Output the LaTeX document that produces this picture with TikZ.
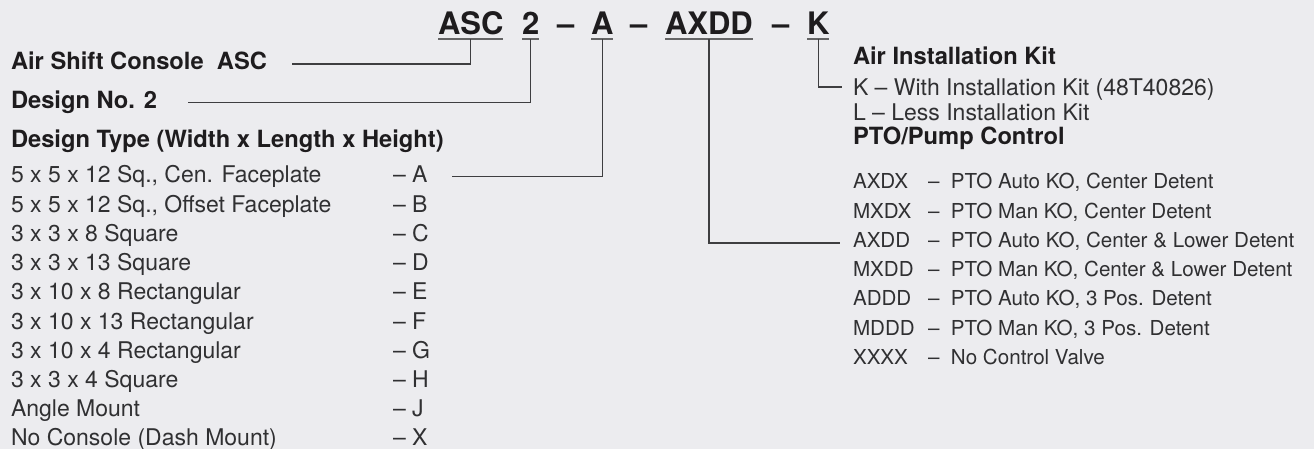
\documentclass[tikz,border=0pt]{standalone}
\usepackage{fontspec}
\setmainfont{TeX Gyre Heros}
\usepackage{xcolor}
\usepackage{tikz}
\usetikzlibrary{calc}

\definecolor{bgcol}{RGB}{236,236,239}
\definecolor{txtcol}{RGB}{48,48,50}
\definecolor{boldcol}{RGB}{30,28,30}
\definecolor{linecol}{RGB}{62,62,64}

\begin{document}
\begin{tikzpicture}[x=1pt, y=-1pt,
    every node/.style={inner sep=0pt, outer sep=0pt, anchor=base west},
    code/.style={font=\fontsize{31}{31}\selectfont\bfseries, text=boldcol},
    title/.style={font=\fontsize{23.7}{24}\selectfont\bfseries, text=boldcol},
    item/.style={font=\fontsize{23}{24}\selectfont, text=txtcol},
    small/.style={font=\fontsize{20.6}{22}\selectfont, text=txtcol},
    conn/.style={draw=linecol, line width=1.2pt},
    uline/.style={draw=linecol!80, line width=1.4pt}]
    % Background
    \useasboundingbox (0,0) rectangle (1314,449);
    \fill[bgcol] (0,0) rectangle (1314,449);

    % Model code
    \node[code] (hASC) at (438,35) {ASC};
    \node[code] (h2) at (522,35) {2};
    \node[code] (d1) at (557,35) {--};
    \node[code] (hA) at (591,35) {A};
    \node[code] (d2) at (630,35) {--};
    \node[code] (hAXDD) at (665,35) {AXDD};
    \node[code] (d3) at (772,35) {--};
    \node[code] (hK) at (807,35) {K};
    \foreach \n in {hASC, h2, hA, hAXDD, hK} {
        \draw[uline] ([yshift=-4pt]\n.base west) -- ([yshift=-4pt]\n.base east);
        \coordinate (u\n) at ([yshift=-4pt]\n.base);
    }

    % Left side
    \node[title] (tASC) at (11,69.5) {Air Shift Console~~ASC};
    \node[title] (tDN) at (11,108.5) {Design No. 2};
    \node[title] (tDT) at (11,147.5) {Design Type (Width x Length x Height)};

    \node[item] (r1) at (11,183) {5 x 5 x 12 Sq., Cen. Faceplate};
    \node[item] (r2) at (11,212.2) {5 x 5 x 12 Sq., Offset Faceplate};
    \node[item] (r3) at (11,241.4) {3 x 3 x 8 Square};
    \node[item] (r4) at (11,270.6) {3 x 3 x 13 Square};
    \node[item] (r5) at (11,299.8) {3 x 10 x 8 Rectangular};
    \node[item] (r6) at (11,329) {3 x 10 x 13 Rectangular};
    \node[item] (r7) at (11,358.2) {3 x 10 x 4 Rectangular};
    \node[item] (r8) at (11,387.4) {3 x 3 x 4 Square};
    \node[item] (r9) at (11,416.6) {Angle Mount};
    \node[item] (r10) at (11,445.8) {No Console (Dash Mount)};

    \node[item] (k1) at (393,183) {-- A};
    \node[item] (k2) at (393,212.2) {-- B};
    \node[item] (k3) at (393,241.4) {-- C};
    \node[item] (k4) at (393,270.6) {-- D};
    \node[item] (k5) at (393,299.8) {-- E};
    \node[item] (k6) at (393,329) {-- F};
    \node[item] (k7) at (393,358.2) {-- G};
    \node[item] (k8) at (393,387.4) {-- H};
    \node[item] (k9) at (393,416.6) {-- J};
    \node[item] (k10) at (393,445.8) {-- X};

    % Right side
    \node[title] (tKit) at (853,64.3) {Air Installation Kit};
    \node[item] (kitK) at (853,95.7) {K -- With Installation Kit (48T40826)};
    \node[item] (kitL) at (853,120.7) {L -- Less Installation Kit};
    \node[title] (tPTO) at (853,145) {PTO/Pump Control};

    \node[small] (p1) at (853,189) {AXDX};
    \node[small] (p2) at (853,218.2) {MXDX};
    \node[small] (p3) at (853,247.4) {AXDD};
    \node[small] (p4) at (853,276.6) {MXDD};
    \node[small] (p5) at (853,305.8) {ADDD};
    \node[small] (p6) at (853,335) {MDDD};
    \node[small] (p7) at (853,364.2) {XXXX};

    \node[small] (q1) at (928,189) {--~~PTO Auto KO, Center Detent};
    \node[small] (q2) at (928,218.2) {--~~PTO Man KO, Center Detent};
    \node[small] (q3) at (928,247.4) {--~~PTO Auto KO, Center \& Lower Detent};
    \node[small] (q4) at (928,276.6) {--~~PTO Man KO, Center \& Lower Detent};
    \node[small] (q5) at (928,305.8) {--~~PTO Auto KO, 3 Pos. Detent};
    \node[small] (q6) at (928,335) {--~~PTO Man KO, 3 Pos. Detent};
    \node[small] (q7) at (928,364.2) {--~~No Control Valve};

    % Connectors
    \coordinate (eASC) at (292,64);
    \coordinate (eDN) at (188,102.5);
    \coordinate (eA) at (452,176.5);
    \coordinate (eAXDD) at (840,243);
    \coordinate (eK) at (842,87);
    \draw[conn] (uhASC) |- (eASC);
    \draw[conn] (uh2) |- (eDN);
    \draw[conn] (uhA) |- (eA);
    \draw[conn] (uhAXDD) |- (eAXDD);
    \draw[conn] (uhK) |- (eK);
\end{tikzpicture}
\end{document}
